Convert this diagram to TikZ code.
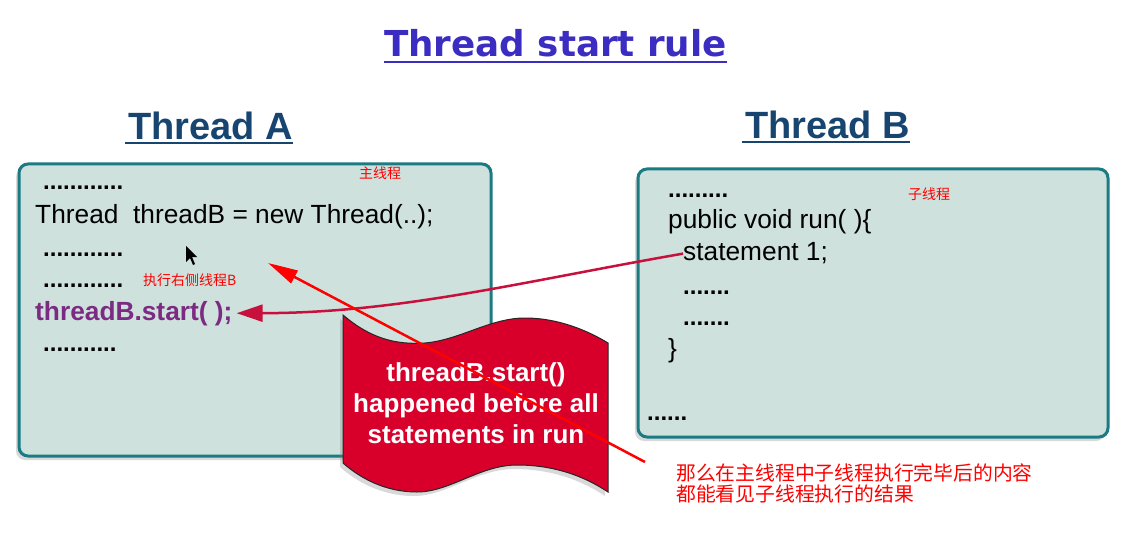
\documentclass[tikz,border=0pt]{standalone}
\usepackage{fontspec}
\setmainfont{Liberation Sans}
\newfontfamily\cjk{Noto Sans CJK SC}
\newfontfamily\titlefont{DejaVu Sans}
\usetikzlibrary{arrows.meta,shadows}
\definecolor{panelfill}{HTML}{CFE1DC}
\definecolor{panelline}{HTML}{1B7B82}
\definecolor{titleblue}{HTML}{3C2DC2}
\definecolor{headblue}{HTML}{17456F}
\definecolor{callpurple}{HTML}{7B2B82}
\definecolor{flagred}{HTML}{D8002B}
\definecolor{linkred}{HTML}{C8103C}

\begin{document}
\begin{tikzpicture}[x=1pt, y=-1pt,
  panel/.style={draw=panelline, line width=3pt, fill=panelfill, rounded corners=9pt,
    drop shadow={shadow xshift=-3pt, shadow yshift=-4pt, opacity=0.3}},
  code/.style={anchor=base west, inner sep=0pt, font=\fontsize{26.3}{30}\selectfont},
  dots/.style={code, font=\fontsize{24}{28}\selectfont\bfseries},
  heading/.style={anchor=base west, inner sep=0pt, text=headblue,
    font=\fontsize{38}{42}\selectfont\bfseries},
  remark/.style={inner sep=0pt, text=red, font=\cjk\fontsize{14}{16}\selectfont}]
  \useasboundingbox (0,0) rectangle (1142,553);

  % title and headings
  \node[anchor=base west, inner sep=0pt, text=titleblue,
    font=\titlefont\fontsize{35.7}{40}\selectfont\bfseries] (title) at (384,57) {Thread start rule};
  \draw[titleblue, line width=2.5pt] ([yshift=-5pt]title.base west) -- ([yshift=-5pt]title.base east);
  \node[heading] (headA) at (128,140) {Thread A};
  \draw[headblue, line width=2.5pt] ([xshift=-3pt,yshift=-3pt]headA.base west) -- ([yshift=-3pt]headA.base east);
  \node[heading] (headB) at (745,139) {Thread B};
  \draw[headblue, line width=2.5pt] ([xshift=-3pt,yshift=-3pt]headB.base west) -- ([yshift=-3pt]headB.base east);

  % the two panels
  \node[panel, minimum width=472pt, minimum height=292pt] (panelA) at (255,310) {};
  \node[panel, minimum width=470pt, minimum height=268pt] (panelB) at (873,303) {};

  % code of thread A
  \node[dots] (a1) at (43,190) {............};
  \node[code] (newB) at (35,224) {Thread\ \ threadB = new Thread(..);};
  \node[dots] (a2) at (43,256) {............};
  \node[dots] (a3) at (43,287) {............};
  \node[code, text=callpurple, font=\fontsize{26.3}{30}\selectfont\bfseries] (call) at (35,320) {threadB.start( );};
  \node[dots] (a4) at (43,351) {...........};

  % code of thread B
  \node[dots] (b1) at (668,198) {.........};
  \node[code] (run) at (668,229) {public void run( )\{};
  \node[code] (stmt) at (683,261) {statement 1;};
  \node[dots] (b2) at (683,294) {.......};
  \node[dots] (b3) at (683,325) {.......};
  \node[code] (close) at (668,357) {\}};
  \node[dots] (b4) at (647,420) {......};

  % link from run() back to start()
  \draw[linkred, line width=2.5pt, -{Triangle[length=26pt, width=17pt]}]
    (stmt.west) .. controls (520,282) and (400,313) .. ([xshift=4pt]call.east);

  % banner
  \draw[fill=flagred, draw=black!85, line width=1pt,
    drop shadow={shadow xshift=-3pt, shadow yshift=-4pt, opacity=0.3}]
    (343,315) .. controls (370,338) and (395,345) .. (425,343)
    .. controls (460,340) and (490,318) .. (525,318)
    .. controls (560,318) and (590,332) .. (608,343)
    -- (608,492)
    .. controls (590,480) and (560,465) .. (517,465)
    .. controls (480,465) and (450,492) .. (417,492)
    .. controls (385,492) and (360,478) .. (343,463) -- cycle;
  \node[align=center, text=white, font=\fontsize{26}{31}\selectfont\bfseries] (claim) at (476,403)
    {threadB.start()\\happened before all\\statements in run};

  % mouse pointer
  \fill[black] (186,246) -- (186,262) -- (190,258) -- (193,265) -- (195,264) -- (192,257) -- (197,257) -- cycle;

  % remarks
  \node[remark] (mainT) at (380,173) {主线程};
  \node[remark, anchor=west] (runB) at (143,280) {执行右侧线程B};
  \node[remark] (subT) at (929,194) {子线程};
  \node[anchor=north west, inner sep=0pt, align=left, text=red,
    font=\cjk\fontsize{19.8}{21}\selectfont] (result) at (676,463)
    {那么在主线程中子线程执行完毕后的内容\\都能看见子线程执行的结果};

  \coordinate (resultStart) at (645,462);
  \coordinate (visible) at (268,263);
  \draw[red, line width=2.5pt, -{Triangle[length=30pt, width=14pt]}] (resultStart) -- (visible);
\end{tikzpicture}
\end{document}
